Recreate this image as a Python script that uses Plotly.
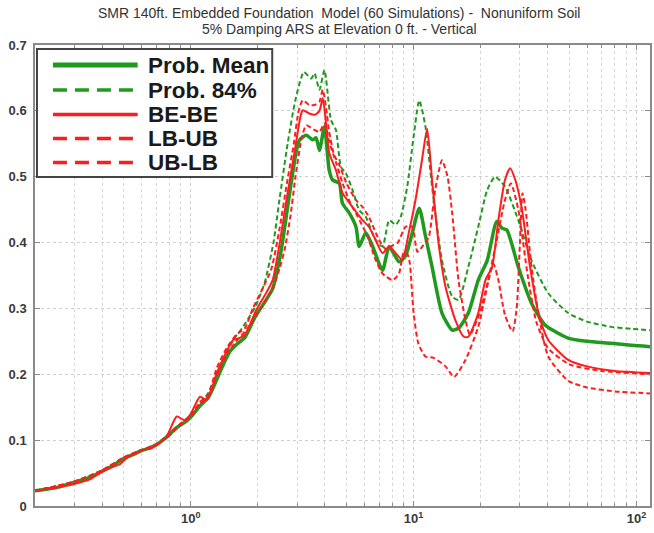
import plotly.graph_objects as go

# ---------------- data (frequency Hz, spectral acceleration g) ----------------
mean_f = [0.2,0.25,0.3,0.35,0.4,0.45,0.5,0.55,0.6,0.65,0.7,0.75,0.8,0.85,0.9,0.95,1.0,1.1,1.2,1.3,1.4,1.5,1.6,1.75,1.95,2.15,2.33,2.55,2.75,2.98,3.08,3.3,3.53,3.65,3.78,3.98,4.18,4.33,4.64,4.79,5.14,5.51,5.7,6.1,6.55,7.25,7.77,8.6,9.2,9.85,10.6,11.3,12.1,13.4,14.9,15.9,17.6,19.5,21.4,23.6,24.9,26.2,29.5,33.8,38.9,49.4,60,77,95,115]
mean_a = [0.023,0.028,0.036,0.043,0.053,0.062,0.072,0.078,0.084,0.088,0.093,0.100,0.108,0.117,0.123,0.128,0.135,0.152,0.165,0.19,0.215,0.235,0.245,0.256,0.288,0.31,0.33,0.39,0.465,0.54,0.556,0.563,0.556,0.559,0.54,0.576,0.51,0.495,0.49,0.46,0.445,0.424,0.394,0.415,0.394,0.358,0.394,0.371,0.38,0.414,0.452,0.41,0.363,0.293,0.267,0.27,0.293,0.343,0.373,0.432,0.422,0.419,0.363,0.308,0.275,0.255,0.25,0.247,0.244,0.242]

p84_f = [0.2,0.3,0.4,0.5,0.6,0.7,0.8,0.9,1.0,1.1,1.2,1.3,1.4,1.55,1.7,1.95,2.15,2.35,2.5,2.72,2.95,3.22,3.47,3.59,3.78,3.98,4.26,4.48,4.72,4.97,5.32,5.7,6.1,6.75,7.25,7.77,8.3,8.75,9.36,10.0,10.6,11.3,12.1,13.4,14.9,15.9,17.6,19.5,21.4,23.2,25.7,29.5,33.8,40.2,49.4,60,77,95,115]
p84_a = [0.023,0.037,0.054,0.073,0.085,0.094,0.11,0.125,0.137,0.155,0.172,0.20,0.222,0.252,0.27,0.303,0.34,0.40,0.465,0.55,0.617,0.659,0.649,0.657,0.632,0.662,0.586,0.571,0.515,0.505,0.48,0.449,0.439,0.404,0.394,0.434,0.427,0.439,0.485,0.561,0.616,0.576,0.485,0.373,0.318,0.313,0.363,0.424,0.48,0.5,0.485,0.434,0.373,0.323,0.293,0.28,0.272,0.269,0.267]

bebe_f = [0.2,0.25,0.28,0.32,0.35,0.4,0.45,0.48,0.52,0.58,0.62,0.66,0.7,0.78,0.865,0.94,1.0,1.1,1.18,1.31,1.45,1.55,1.65,1.75,1.97,2.15,2.33,2.52,2.69,2.93,3.1,3.18,3.4,3.6,3.78,3.91,4.05,4.18,4.48,4.8,5.32,5.9,6.3,6.75,7.25,7.77,8.3,8.9,9.5,10.2,10.9,11.5,12.1,13.0,13.9,15.4,16.8,17.6,19.5,21.0,22.5,24.0,25.7,27.1,28.6,30.5,33.3,36.3,40.2,49.4,60,80,115]
bebe_a = [0.023,0.028,0.031,0.036,0.04,0.052,0.06,0.063,0.074,0.081,0.086,0.087,0.092,0.106,0.136,0.130,0.14,0.166,0.161,0.202,0.235,0.252,0.255,0.26,0.298,0.32,0.343,0.404,0.465,0.54,0.59,0.601,0.596,0.594,0.60,0.619,0.58,0.536,0.51,0.475,0.454,0.434,0.424,0.404,0.384,0.394,0.384,0.374,0.414,0.465,0.525,0.573,0.495,0.394,0.333,0.282,0.257,0.257,0.293,0.343,0.363,0.434,0.495,0.513,0.495,0.454,0.363,0.293,0.252,0.222,0.212,0.205,0.202]

lbub_f = [0.2,0.3,0.4,0.5,0.6,0.7,0.8,0.9,1.0,1.1,1.2,1.31,1.45,1.6,1.75,1.9,2.1,2.3,2.5,2.7,2.9,3.05,3.18,3.4,3.59,3.78,3.91,4.05,4.18,4.4,4.64,5.0,5.5,5.9,6.3,7.0,7.5,8.0,8.5,9.2,9.85,10.4,11.0,11.7,12.5,13.4,14.2,14.9,15.9,17.1,17.9,19.8,21.5,23.5,25.5,27.3,29.5,32.5,35.5,40,50,70,115]
lbub_a = [0.023,0.037,0.054,0.074,0.085,0.093,0.108,0.125,0.138,0.158,0.17,0.21,0.24,0.26,0.27,0.30,0.33,0.36,0.42,0.49,0.55,0.60,0.616,0.609,0.609,0.614,0.632,0.604,0.568,0.533,0.518,0.49,0.465,0.454,0.439,0.404,0.39,0.395,0.40,0.424,0.424,0.386,0.395,0.409,0.48,0.525,0.50,0.444,0.343,0.282,0.26,0.293,0.34,0.40,0.46,0.49,0.45,0.35,0.28,0.24,0.215,0.205,0.2]

ublb_f = [0.2,0.3,0.4,0.5,0.6,0.7,0.8,0.9,1.0,1.1,1.2,1.31,1.45,1.6,1.8,1.97,2.15,2.33,2.5,2.64,2.8,2.95,3.15,3.3,3.55,3.78,3.98,4.18,4.5,4.8,5.2,5.6,6.2,6.75,7.25,8.05,8.6,9.0,9.3,9.6,10.0,10.5,11.3,12.3,13.9,15.2,17.1,19.5,21.7,22.8,24.0,25.7,27.8,29.0,30.0,30.8,31.8,33.8,36.3,40.2,49.4,60,80,115]
ublb_a = [0.023,0.037,0.054,0.073,0.084,0.093,0.107,0.123,0.136,0.155,0.165,0.198,0.23,0.25,0.27,0.29,0.31,0.33,0.36,0.39,0.44,0.50,0.56,0.578,0.572,0.568,0.581,0.553,0.52,0.49,0.46,0.44,0.41,0.374,0.353,0.343,0.353,0.384,0.385,0.37,0.293,0.247,0.227,0.225,0.212,0.196,0.222,0.272,0.343,0.368,0.343,0.29,0.265,0.30,0.40,0.475,0.45,0.363,0.293,0.227,0.19,0.18,0.174,0.171]

series_names = ["Prob. Mean", "Prob. 84%", "BE-BE", "LB-UB", "UB-LB"]
title_lines = ["SMR 140ft. Embedded Foundation\u00a0 Model (60 Simulations) -\u00a0 Nonuniform Soil",
               "5% Damping ARS at Elevation 0 ft. - Vertical"]
x_tickvals = [1, 10, 100]
x_ticktext = ["10<sup>0</sup>", "10<sup>1</sup>", "10<sup>2</sup>"]
x_minor = [0.2,0.3,0.4,0.5,0.6,0.7,0.8,0.9,2,3,4,5,6,7,8,9,20,30,40,50,60,70,80,90]

GREEN = "#1f9a1f"
RED = "#ff1c1c"

# ---------------- figure ----------------
W, H = 654, 533
L, R, T, B = 35, 2, 45, 27
PW, PH = W - L - R, H - T - B

def px(x):
    return (x - L) / PW

def py(y):
    return (H - B - y) / PH

fig = go.Figure()
common = dict(mode="lines", line_shape="spline", showlegend=False, hoverinfo="skip")
fig.add_trace(go.Scatter(x=p84_f, y=p84_a, name=series_names[1],
                         line=dict(color=GREEN, width=2, dash="5px,3px", smoothing=0.6), **common))
fig.add_trace(go.Scatter(x=mean_f, y=mean_a, name=series_names[0],
                         line=dict(color=GREEN, width=3.5, smoothing=0.6), **common))
fig.add_trace(go.Scatter(x=lbub_f, y=lbub_a, name=series_names[3],
                         line=dict(color=RED, width=2, dash="5px,3px", smoothing=0.6), **common))
fig.add_trace(go.Scatter(x=ublb_f, y=ublb_a, name=series_names[4],
                         line=dict(color=RED, width=2, dash="5px,3px", smoothing=0.6), **common))
fig.add_trace(go.Scatter(x=bebe_f, y=bebe_a, name=series_names[2],
                         line=dict(color=RED, width=2, smoothing=0.6), **common))

tickfont = dict(family="Arial, Liberation Sans, sans-serif", size=13, color="#3a3a3a", weight="bold")
axis_common = dict(showline=True, linecolor="#8a8a8a", linewidth=1.5, mirror="ticks",
                   ticks="inside", ticklen=5, tickcolor="#8a8a8a", tickwidth=1,
                   showgrid=True, gridcolor="#cfcfcf", griddash="dot", gridwidth=1,
                   zeroline=False, tickfont=tickfont)

fig.update_xaxes(type="log", range=[-0.69897, 2.0607], tickmode="array",
                 tickvals=x_tickvals, ticktext=x_ticktext,
                 minor=dict(tickmode="array", tickvals=x_minor, ticks="inside", ticklen=3,
                            tickcolor="#8a8a8a", showgrid=True, gridcolor="#d6d6d6",
                            griddash="dot", gridwidth=1),
                 **axis_common)
fig.update_yaxes(range=[0, 0.7], dtick=0.1, ticklabelstandoff=4, **axis_common)

# legend drawn as a MATLAB-style box
shapes = [dict(type="rect", xref="paper", yref="paper", x0=px(37), x1=px(273), y0=py(49), y1=py(177),
               line=dict(color="#444444", width=2), fillcolor="white", layer="above")]
leg_styles = [dict(color=GREEN, width=5, dash="solid"),
              dict(color=GREEN, width=3.5, dash="14px,8px"),
              dict(color=RED, width=3.5, dash="solid"),
              dict(color=RED, width=3.5, dash="14px,8px"),
              dict(color=RED, width=3.5, dash="14px,8px")]
leg_y = [65, 90, 114.5, 138.5, 162.5]
annotations = []
for name, st, yy in zip(series_names, leg_styles, leg_y):
    shapes.append(dict(type="line", xref="paper", yref="paper", x0=px(53), x1=px(138),
                       y0=py(yy), y1=py(yy), line=st, layer="above"))
    annotations.append(dict(text=name, xref="paper", yref="paper", x=px(146), y=py(yy),
                            xanchor="left", yanchor="middle", showarrow=False,
                            font=dict(family="Arial, Liberation Sans, sans-serif", size=22.5,
                                      color="#1a1a1a", weight="bold")))

for i, (t, yy) in enumerate(zip(title_lines, [13, 29])):
    annotations.append(dict(text=t, xref="paper", yref="paper", x=px(340), y=py(yy),
                            xanchor="center", yanchor="middle", showarrow=False,
                            font=dict(family="Arial, Liberation Sans, sans-serif", size=14,
                                      color="#333333")))

fig.update_layout(width=W, height=H, margin=dict(l=L, r=R, t=T, b=B),
                  paper_bgcolor="white", plot_bgcolor="white",
                  shapes=shapes, annotations=annotations, showlegend=False)

fig.write_html("out.html", config={"displayModeBar": False},
               post_script="document.body.style.margin='0px';document.body.style.overflow='hidden';")
